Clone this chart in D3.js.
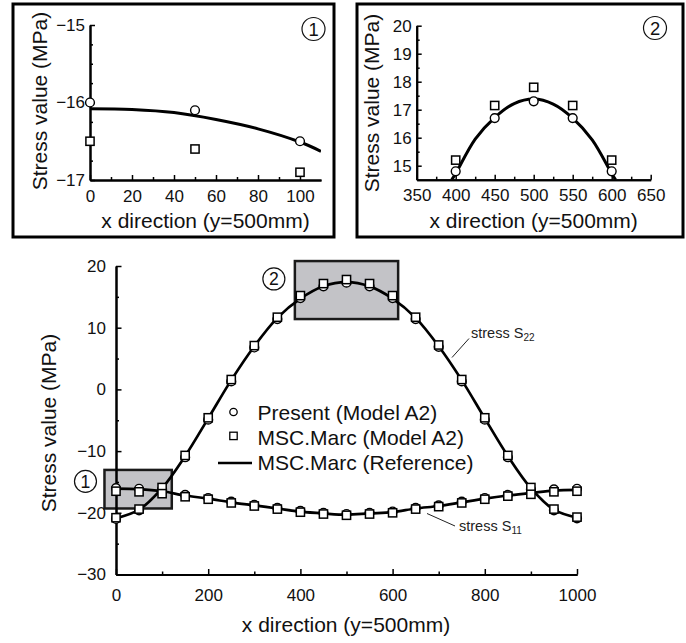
<!DOCTYPE html>
<html>
<head>
<meta charset="utf-8">
<script src="https://cdn.jsdelivr.net/npm/d3@7"></script>
<style>
  html, body { margin: 0; padding: 0; background: #fff; }
  svg { display: block; font-family: "Liberation Sans", Arial, Helvetica, sans-serif; }
</style>
</head>
<body>
<svg id="chart" width="686" height="643"></svg>
<script>
// Sampling positions along the line y = 500 mm
const xPositions = [0, 50, 100, 150, 200, 250, 300, 350, 400, 450, 500,
                    550, 600, 650, 700, 750, 800, 850, 900, 950, 1000];

// Stress S22 (MPa)
const s22Present   = [-21.0, -19.6, -16.2, -11.0, -4.9, 1.3, 6.8, 11.4, 14.8, 16.7, 17.3,
                      16.7, 14.8, 11.4, 6.9, 1.3, -4.9, -11.0, -16.2, -19.6, -20.9];
const s22Marc      = [-20.8, -19.4, -15.9, -10.7, -4.6, 1.6, 7.1, 11.7, 15.2, 17.15, 17.8,
                      17.15, 15.2, 11.7, 7.2, 1.6, -4.6, -10.7, -15.9, -19.4, -20.7];
const s22Reference = [-20.9, -19.5, -16.0, -10.8, -4.7, 1.5, 7.0, 11.6, 14.72, 16.72, 17.38,
                      16.7, 14.72, 11.6, 7.0, 1.5, -4.7, -10.8, -16.0, -19.5, -20.8];

// Stress S11 (MPa)
const s11Present   = [-16.0, -16.1, -16.5, -17.1, -17.6, -18.2, -18.7, -19.2, -19.7, -20.0, -20.2,
                      -20.0, -19.8, -19.2, -18.8, -18.2, -17.6, -17.1, -16.7, -16.2, -16.1];
const s11Marc      = [-16.5, -16.6, -16.9, -17.4, -17.8, -18.4, -18.9, -19.4, -19.9, -20.2, -20.4,
                      -20.2, -20.0, -19.4, -19.0, -18.4, -17.8, -17.3, -17.0, -16.6, -16.5];
const s11Reference = [-16.08, -16.17, -16.51, -17.2, -17.7, -18.3, -18.8, -19.3, -19.8, -20.1, -20.3,
                      -20.1, -19.9, -19.3, -18.9, -18.3, -17.7, -17.2, -16.8, -16.4, -16.3];

// Finer reference curves used in the two detail views
const detail1RefX = [0, 20, 40, 60, 80, 100, 110];
const detail1RefY = [-16.08, -16.09, -16.13, -16.22, -16.34, -16.51, -16.63];
const detail2RefX = [395, 400, 425, 450, 475, 500, 525, 550, 575, 600, 605];
const detail2RefY = [14.5, 14.72, 15.95, 16.72, 17.22, 17.38, 17.2, 16.7, 15.92, 14.72, 14.5];

// Data windows of the two detail views
const region1 = { x: [-25, 121], y: [-19.3, -13.05], label: "1" };
const region2 = { x: [388, 612], y: [11.4, 20.8], label: "2" };

// Tick values
const mainXTicks = [0, 200, 400, 600, 800, 1000];
const mainXMinor = [100, 300, 500, 700, 900];
const mainYTicks = [-30, -20, -10, 0, 10, 20];
const mainYMinor = [-25, -15, -5, 5, 15];
const d1XTicks = [0, 20, 40, 60, 80, 100];
const d1XMinor = [10, 30, 50, 70, 90];
const d1YTicks = [-17, -16, -15];
const d1YMinor = [-16.75, -16.5, -16.25, -15.75, -15.5, -15.25];
const d2XTicks = [350, 400, 450, 500, 550, 600, 650];
const d2XMinor = [375, 425, 475, 525, 575, 625];
const d2YTicks = [15, 16, 17, 18, 19, 20];
const d2YMinor = [15.5, 16.5, 17.5, 18.5, 19.5];

const legendLabels = ["Present (Model A2)", "MSC.Marc (Model A2)", "MSC.Marc (Reference)"];
const xTitle = "x direction (y=500mm)";
const yTitle = "Stress value (MPa)";

const svg = d3.select("#chart");
const fmt = d3.format("d");

function pts(xs, ys) { return xs.map((x, i) => [x, ys[i]]); }

function drawAxes(g, x, y, o) {
  const x0 = x.range()[0], yb = y.range()[0];
  const ax = g.append("g").attr("transform", `translate(0,${yb})`);
  ax.call(d3.axisBottom(x).tickValues(o.xMinor).tickSize(-o.minor).tickSizeOuter(0).tickFormat(""));
  ax.append("g").call(d3.axisBottom(x).tickValues(o.xTicks).tickSize(-o.major)
    .tickSizeOuter(0).tickPadding(o.xPad).tickFormat(fmt));
  const ay = g.append("g").attr("transform", `translate(${x0},0)`);
  ay.call(d3.axisLeft(y).tickValues(o.yMinor).tickSize(-o.minor).tickSizeOuter(0).tickFormat(""));
  ay.append("g").call(d3.axisLeft(y).tickValues(o.yTicks).tickSize(-o.major)
    .tickSizeOuter(0).tickPadding(o.yPad).tickFormat(fmt));
  g.selectAll(".domain").attr("stroke", "#000").attr("stroke-width", 2);
  g.selectAll(".tick line").attr("stroke", "#000").attr("stroke-width", 1.5);
  g.selectAll(".tick text").attr("font-size", o.tickFont).attr("fill", "#111")
    .attr("font-family", "'Liberation Sans', Arial, sans-serif");
}

function drawMarks(g, x, y, present, marc) {
  g.append("g").selectAll("circle").data(present).join("circle")
    .attr("cx", d => x(d[0])).attr("cy", d => y(d[1])).attr("r", 4.4)
    .attr("fill", "#fff").attr("stroke", "#000").attr("stroke-width", 1.4);
  g.append("g").selectAll("rect").data(marc).join("rect")
    .attr("x", d => x(d[0]) - 4.1).attr("y", d => y(d[1]) - 4.1)
    .attr("width", 8.2).attr("height", 8.2)
    .attr("fill", "#fff").attr("stroke", "#000").attr("stroke-width", 1.5);
}

function circledNumber(g, cx, cy, r, n) {
  g.append("circle").attr("cx", cx).attr("cy", cy).attr("r", r)
    .attr("fill", "none").attr("stroke", "#111").attr("stroke-width", 1.2);
  g.append("text").attr("x", cx).attr("y", cy).attr("dy", "0.36em")
    .attr("text-anchor", "middle").attr("font-size", r * 1.6).attr("fill", "#111").text(n);
}

const line = (x, y) => d3.line().x(d => x(d[0])).y(d => y(d[1])).curve(d3.curveCatmullRom.alpha(0.5));

// ---------- main chart ----------
const mx = d3.scaleLinear().domain([0, 1000]).range([116, 577]);
const my = d3.scaleLinear().domain([-30, 20]).range([574.5, 266]);
const main = svg.append("g");

// highlighted windows
[region1, region2].forEach(r => {
  main.append("rect")
    .attr("x", mx(r.x[0])).attr("y", my(r.y[1]))
    .attr("width", mx(r.x[1]) - mx(r.x[0])).attr("height", my(r.y[0]) - my(r.y[1]))
    .attr("fill", "#c3c3c7").attr("stroke", "#1a1a1a").attr("stroke-width", 2.5);
});
circledNumber(main, mx(region1.x[0]) - 19, my(-14.9), 11, region1.label);
circledNumber(main, mx(region2.x[0]) - 21, my(17.9), 11, region2.label);

drawAxes(main, mx, my, {
  xTicks: mainXTicks, xMinor: mainXMinor, yTicks: mainYTicks, yMinor: mainYMinor,
  major: 5.5, minor: 3, xPad: 14.5, yPad: 10, tickFont: 17
});

const mainLine = line(mx, my);
main.append("path").attr("d", mainLine(pts(xPositions, s22Reference)))
  .attr("fill", "none").attr("stroke", "#000").attr("stroke-width", 2.7);
main.append("path").attr("d", mainLine(pts(xPositions, s11Reference)))
  .attr("fill", "none").attr("stroke", "#000").attr("stroke-width", 2.7);
drawMarks(main, mx, my,
  pts(xPositions, s22Present).concat(pts(xPositions, s11Present)),
  pts(xPositions, s22Marc).concat(pts(xPositions, s11Marc)));

// curve annotations
main.append("line").attr("x1", 469).attr("y1", 338.5).attr("x2", 452).attr("y2", 357.5)
  .attr("stroke", "#222").attr("stroke-width", 1);
const t22 = main.append("text").attr("x", 471).attr("y", 338).attr("font-size", 14.5).attr("fill", "#222");
t22.append("tspan").text("stress S");
t22.append("tspan").attr("font-size", 10).attr("dy", 3).text("22");
main.append("line").attr("x1", 427).attr("y1", 513.5).attr("x2", 455).attr("y2", 526)
  .attr("stroke", "#222").attr("stroke-width", 1);
const t11 = main.append("text").attr("x", 459).attr("y", 531).attr("font-size", 14.5).attr("fill", "#222");
t11.append("tspan").text("stress S");
t11.append("tspan").attr("font-size", 10).attr("dy", 3).text("11");

// legend
const legend = main.append("g");
const legRows = [420, 444.5, 469.5];
legend.selectAll("text").data(legendLabels).join("text")
  .attr("x", 257.5).attr("y", (d, i) => legRows[i]).attr("font-size", 21).attr("fill", "#111").text(d => d);
legend.append("circle").attr("cx", 233.5).attr("cy", legRows[0] - 8).attr("r", 3.7)
  .attr("fill", "#fff").attr("stroke", "#000").attr("stroke-width", 1.3);
legend.append("rect").attr("x", 229.8).attr("y", legRows[1] - 12.3).attr("width", 7.4).attr("height", 7.4)
  .attr("fill", "#fff").attr("stroke", "#000").attr("stroke-width", 1.3);
legend.append("line").attr("x1", 218).attr("x2", 252).attr("y1", legRows[2] - 6.5).attr("y2", legRows[2] - 6.5)
  .attr("stroke", "#000").attr("stroke-width", 2.7);

// titles
main.append("text").attr("x", 346).attr("y", 632).attr("text-anchor", "middle")
  .attr("font-size", 21).attr("fill", "#111").text(xTitle);
main.append("text").attr("transform", "translate(56,423) rotate(-90)").attr("text-anchor", "middle")
  .attr("font-size", 21).attr("fill", "#111").text(yTitle);

// ---------- detail views ----------
function detail(frame, xDom, xRange, yDom, yRange, opts) {
  const g = svg.append("g");
  g.append("rect").attr("x", frame[0]).attr("y", frame[1]).attr("width", frame[2]).attr("height", frame[3])
    .attr("fill", "#fff").attr("stroke", "#000").attr("stroke-width", 3);
  const x = d3.scaleLinear().domain(xDom).range(xRange);
  const y = d3.scaleLinear().domain(yDom).range(yRange);
  const clipId = "clip" + opts.label;
  g.append("clipPath").attr("id", clipId).append("rect")
    .attr("x", xRange[0]).attr("y", yRange[1]).attr("width", xRange[1] - xRange[0])
    .attr("height", yRange[0] - yRange[1]);
  drawAxes(g, x, y, Object.assign({ major: 5, minor: 3, xPad: 9.7, yPad: 5, tickFont: 17 }, opts));
  g.append("path").attr("clip-path", `url(#${clipId})`)
    .attr("d", line(x, y)(opts.ref))
    .attr("fill", "none").attr("stroke", "#000").attr("stroke-width", 3);
  const inDom = d => d[0] >= xDom[0] && d[0] <= xDom[1] && d[1] >= yDom[0] && d[1] <= yDom[1];
  drawMarks(g, x, y, opts.present.filter(inDom), opts.marc.filter(inDom));
  circledNumber(g, opts.badge[0], opts.badge[1], 11.5, opts.label);
  g.append("text").attr("x", (xRange[0] + xRange[1]) / 2).attr("y", opts.titleY)
    .attr("text-anchor", "middle").attr("font-size", 21).attr("fill", "#111").text(xTitle);
  g.append("text").attr("transform", `translate(${opts.yTitleX},${opts.yTitleY}) rotate(-90)`)
    .attr("text-anchor", "middle").attr("font-size", 21).attr("fill", "#111").text(yTitle);
}

detail([13, 4, 321, 233], [0, 110], [90, 321], [-17, -15], [180, 25], {
  label: "1", xTicks: d1XTicks, xMinor: d1XMinor, yTicks: d1YTicks, yMinor: d1YMinor,
  ref: pts(detail1RefX, detail1RefY),
  present: pts(xPositions, s11Present), marc: pts(xPositions, s11Marc),
  badge: [313.5, 29], titleY: 228, yTitleX: 47, yTitleY: 101
});
detail([357, 4, 326, 233], [350, 650], [416.7, 650.7], [14.5, 20], [179.7, 25.7], {
  label: "2", xTicks: d2XTicks, xMinor: d2XMinor, yTicks: d2YTicks, yMinor: d2YMinor,
  ref: pts(detail2RefX, detail2RefY),
  present: pts(xPositions, s22Present), marc: pts(xPositions, s22Marc),
  badge: [655, 28], titleY: 228, yTitleX: 379, yTitleY: 103
});
</script>
</body>
</html>
